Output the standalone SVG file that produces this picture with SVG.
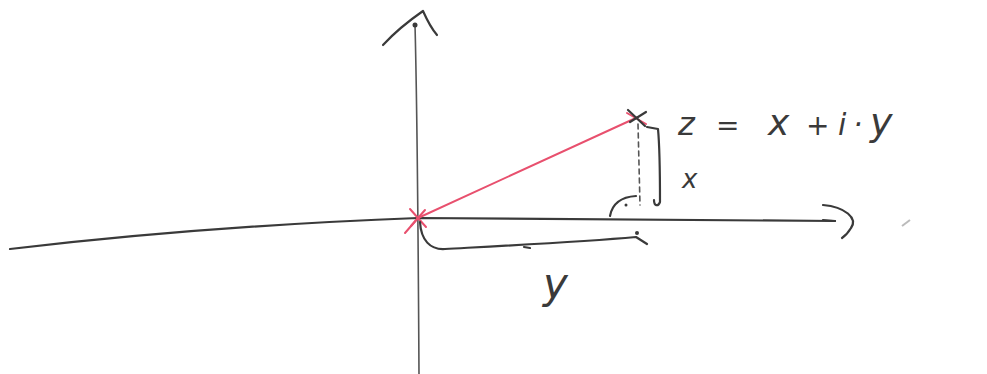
<svg xmlns="http://www.w3.org/2000/svg" width="987" height="374" viewBox="0 0 987 374">
<style>
.ink{fill:none;stroke:#3a3a3a;stroke-width:2.2;stroke-linecap:round;stroke-linejoin:round}
.thin{fill:none;stroke:#555;stroke-width:1.6;stroke-linecap:round}
.red{fill:none;stroke:#e8506e;stroke-width:2;stroke-linecap:round}
.hand{font-family:"DejaVu Sans","Liberation Sans",sans-serif;fill:#3a3a3a;font-style:italic}
</style>
<rect width="987" height="374" fill="#ffffff"/>
<!-- horizontal axis -->
<path class="ink" d="M10 249 C120 236 260 224 418 218 L835 221"/>
<path class="ink" d="M823 205 C845 207 858 218 851 228 C848 233 845 236 842 238"/>
<path class="ink" d="M823 220 L835 221"/>
<!-- vertical axis -->
<path class="thin" d="M415 25 C417 100 418 200 419 374"/>
<path class="ink" d="M383 45 C395 32 410 20 423 11 C427 20 431 28 437 35"/>
<circle cx="415" cy="25" r="2.5" fill="#3a3a3a"/>
<!-- vector -->
<path class="red" d="M418 218 L638 117"/>
<path class="red" d="M418 218 L405 233"/>
<path class="red" d="M410 209 L426 227 M425 210 L411 226"/>
<path class="red" d="M627 113 L646 124"/>
<!-- point cross -->
<path class="ink" d="M628 110 L645 126 M646 112 L630 122"/>
<!-- dashed vertical -->
<path class="thin" d="M638 124 L640 205" stroke-dasharray="5 4"/>
<!-- brace x -->
<path class="ink" d="M647 127 L658 129 C660 150 660 180 660 202 C658 207 654 206 654 200"/>
<!-- angle -->
<path class="ink" d="M610 216 C612 205 620 197 636 196"/>
<circle cx="626" cy="205" r="1.5" fill="#3a3a3a"/>
<!-- brace y -->
<path class="ink" d="M420 222 C421 240 430 250 445 249 C500 246 580 242 636 237 L647 244"/>
<circle cx="637" cy="233" r="2" fill="#3a3a3a"/>
<path class="ink" d="M524 247 L530 248"/>
<!-- faint marks -->
<path d="M902 226 L910 220" stroke="#bbb" stroke-width="2"/>
<!-- labels -->
<text class="hand" x="678" y="135" font-size="32">z</text>
<text class="hand" x="716" y="135" font-size="28">=</text>
<text class="hand" x="768" y="135" font-size="36">x</text>
<text class="hand" x="806" y="135" font-size="28">+</text>
<text class="hand" x="838" y="135" font-size="30">i</text>
<text class="hand" x="853" y="135" font-size="30">·</text>
<text class="hand" x="870" y="135" font-size="38">y</text>
<text class="hand" x="682" y="188" font-size="26">x</text>
<text class="hand" x="543" y="298" font-size="42">y</text>
</svg>
